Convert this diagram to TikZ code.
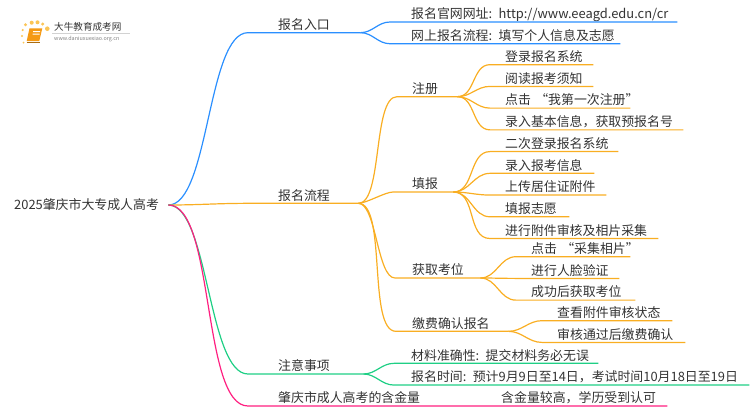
\documentclass[tikz,border=0pt]{standalone}
\usepackage{fontspec}
\usepackage{tikz}
\usetikzlibrary{positioning}
\setmainfont[WordSpace=0.2]{Noto Sans CJK SC}
\definecolor{textgray}{HTML}{333333}
\definecolor{lineblue}{HTML}{2A8FFF}
\definecolor{lineorange}{HTML}{F9AE22}
\definecolor{linegreen}{HTML}{1FCF85}
\definecolor{linepink}{HTML}{FF1F80}
\definecolor{logoorange}{HTML}{F59A14}
\definecolor{logoyellow}{HTML}{FBC556}

\begin{document}
\begin{tikzpicture}[x=1pt, y=-1pt,
  topic/.style = {anchor=south west, inner xsep=0pt, inner ysep=1pt, text height=17.33pt, text depth=2pt, font=\fontsize{12.9}{15}\selectfont, text=textgray, align=left},
  under/.style = {below=0pt of #1.south west, anchor=north west},
  curve/.style = {line width=1.2pt, out=0, in=180},
  long/.style = {looseness=.55}]
\useasboundingbox (0,0) rectangle (750,410);

% logo
\fill[logoyellow] (22.7,30) circle (1.2pt) (25.5,24.8) circle (1.6pt) (31.7,22.7) circle (2pt) (37.5,22.3) circle (2pt) (42.7,24) circle (1.7pt) (47.3,28.7) circle (2.3pt) (22,36) circle (1.1pt) (23.5,42.5) circle (1pt);
\fill[logoorange] (29.5,28.3) -- (42.3,28.3) -- (39.3,41) -- (26.7,41) -- cycle;
\draw[logoorange!70!black, line width=.5pt] (26.7,41.8) -- (39.5,41.8);
\fill[white] (33,31.2) rectangle (40,32.2) (32.5,33.6) rectangle (39.5,34.6);
\draw[gray!35, line width=.4pt] (52,33) -- (130,33);
\node[anchor=west, inner sep=0pt, font=\fontsize{9.6}{11}\selectfont, text=textgray] (sitename) at (54,27) {大牛教育成考网};
\node[anchor=west, inner sep=0pt, font=\fontsize{5.4}{6}\selectfont, text=gray] (siteurl) at (54,39) {www.daniuxuexiao.org.cn};

% root
\node[anchor=west, inner sep=0pt, text width=154pt, font=\fontsize{12.9}{15}\selectfont, text=textgray] (root) at (14,205) {2025肇庆市大专成人高考};

% second level
\node[topic, text width=82pt] (rukou) at (278,32.67) {报名入口};
\node[topic, text width=80pt] (liucheng) at (278,203.33) {报名流程};
\node[topic, text width=85pt] (zhuyi) at (278,374) {注意事项};
\node[topic, text width=212pt] (hanjin) at (278,406) {肇庆市成人高考的含金量};

% third level
\node[topic, text width=45pt] (zhuce) at (412,96.67) {注册};
\node[topic, text width=41pt] (tianbao) at (412,192) {填报};
\node[topic, text width=68pt] (kaowei) at (412,278) {获取考位};
\node[topic, text width=96pt] (jiaofei) at (412,331.33) {缴费确认报名};

% leaves
\node[topic, text width=266pt] (guanwang) at (411,22) {报名官网网址: http://www.eeagd.edu.cn/cr};
\node[topic, text width=209pt, under=guanwang] (wangshang) {网上报名流程: 填写个人信息及志愿};
\node[topic, text width=88pt] (denglu) at (505,64.67) {登录报名系统};
\node[topic, text width=88pt, under=denglu] (yuedu) {阅读报考须知};
\node[topic, text width=125pt, under=yuedu] (dianji) {\mbox{点击 “我第一次注册”}};
\node[topic, text width=178pt, under=dianji] (luru) {录入基本信息，获取预报名号};
\node[topic, text width=113pt, under=luru] (erci) {二次登录报名系统};
\node[topic, text width=89pt, under=erci] (baokao) {录入报考信息};
\node[topic, text width=101pt, under=baokao] (shangchuan) {上传居住证附件};
\node[topic, text width=64pt, under=shangchuan] (zhiyuan) {填报志愿};
\node[topic, text width=153pt, under=zhiyuan] (shenhe) {进行附件审核及相片采集};
\node[topic, text width=99pt] (caiji) at (531,256.67) {\mbox{点击 “采集相片”}};
\node[topic, text width=88pt, under=caiji] (renlian) {进行人脸验证};
\node[topic, text width=104pt, under=renlian] (chenggong) {成功后获取考位};
\node[topic, text width=115pt] (chakan) at (557,320.67) {查看附件审核状态};
\node[topic, text width=128pt, under=chakan] (tongguo) {审核通过后缴费确认};
\node[topic, text width=187pt] (cailiao) at (411,363.33) {材料准确性: 提交材料务必无误};
\node[topic, text width=338pt, under=cailiao] (shijian) {报名时间: 预计9月9日至14日，考试时间10月18日至19日};
\node[topic, text width=166pt] (jiaogao) at (501,406) {含金量较高，学历受到认可};

% branches
\draw[lineblue, curve, long] (root.east) to ([xshift=-30pt]rukou.south west) -- (rukou.south east);
\draw[lineorange, curve] (root.east) to ([xshift=-30pt]liucheng.south west) -- (liucheng.south east);
\draw[linegreen, curve, long] (root.east) to ([xshift=-30pt]zhuyi.south west) -- (zhuyi.south east);
\draw[linepink, curve, long] (root.east) to ([xshift=-30pt]hanjin.south west) -- (hanjin.south east) -- (jiaogao.south east);

\draw[lineblue, curve] (rukou.south east) to ([xshift=-21pt]guanwang.south west) -- (guanwang.south east);
\draw[lineblue, curve] (rukou.south east) to ([xshift=-21pt]wangshang.south west) -- (wangshang.south east);

\draw[lineorange, curve, long] (liucheng.south east) to ([xshift=-15pt]zhuce.south west) -- (zhuce.south east);
\draw[lineorange, curve, long] (liucheng.south east) to ([xshift=-19pt]tianbao.south west) -- (tianbao.south east);
\draw[lineorange, curve, long] (liucheng.south east) to ([xshift=-17pt]kaowei.south west) -- (kaowei.south east);
\draw[lineorange, curve, long] (liucheng.south east) to ([xshift=-16pt]jiaofei.south west) -- (jiaofei.south east);

\draw[lineorange, curve] (zhuce.south east) to ([xshift=-15pt]denglu.south west) -- (denglu.south east);
\draw[lineorange, curve] (zhuce.south east) to ([xshift=-15pt]yuedu.south west) -- (yuedu.south east);
\draw[lineorange, curve] (zhuce.south east) to ([xshift=-15pt]dianji.south west) -- (dianji.south east);
\draw[lineorange, curve] (zhuce.south east) to ([xshift=-15pt]luru.south west) -- (luru.south east);

\draw[lineorange, curve] (tianbao.south east) to ([xshift=-15pt]erci.south west) -- (erci.south east);
\draw[lineorange, curve] (tianbao.south east) to ([xshift=-15pt]baokao.south west) -- (baokao.south east);
\draw[lineorange, curve] (tianbao.south east) to ([xshift=-15pt]shangchuan.south west) -- (shangchuan.south east);
\draw[lineorange, curve] (tianbao.south east) to ([xshift=-15pt]zhiyuan.south west) -- (zhiyuan.south east);
\draw[lineorange, curve] (tianbao.south east) to ([xshift=-15pt]shenhe.south west) -- (shenhe.south east);

\draw[lineorange, curve] (kaowei.south east) to ([xshift=-15pt]caiji.south west) -- (caiji.south east);
\draw[lineorange, curve] (kaowei.south east) to ([xshift=-15pt]renlian.south west) -- (renlian.south east);
\draw[lineorange, curve] (kaowei.south east) to ([xshift=-15pt]chenggong.south west) -- (chenggong.south east);

\draw[lineorange, curve] (jiaofei.south east) to ([xshift=-15pt]chakan.south west) -- (chakan.south east);
\draw[lineorange, curve] (jiaofei.south east) to ([xshift=-15pt]tongguo.south west) -- (tongguo.south east);

\draw[linegreen, curve] (zhuyi.south east) to ([xshift=-17pt]cailiao.south west) -- (cailiao.south east);
\draw[linegreen, curve] (zhuyi.south east) to ([xshift=-17pt]shijian.south west) -- (shijian.south east);
\end{tikzpicture}
\end{document}
